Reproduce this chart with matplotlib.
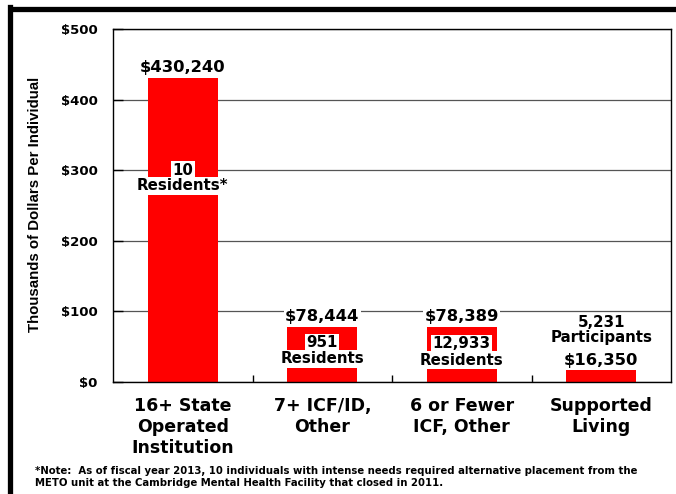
import matplotlib
matplotlib.use("Agg")
import matplotlib.pyplot as plt
from matplotlib.lines import Line2D
from matplotlib.ticker import FixedLocator

# ---- data ----
categories = ["16+ State\nOperated\nInstitution", "7+ ICF/ID,\nOther",
              "6 or Fewer\nICF, Other", "Supported\nLiving"]
costs = [430.240, 78.444, 78.389, 16.350]          # thousands of dollars
cost_labels = ["$430,240", "$78,444", "$78,389", "$16,350"]
count_numbers = ["10", "951", "12,933", "5,231"]
count_units = ["Residents*", "Residents", "Residents", "Participants"]
y_ticks = [0, 100, 200, 300, 400, 500]
y_tick_labels = ["$0", "$100", "$200", "$300", "$400", "$500"]
y_label = "Thousands of Dollars Per Individual"
note = ("*Note:  As of fiscal year 2013, 10 individuals with intense needs required alternative placement from the\n"
        "METO unit at the Cambridge Mental Health Facility that closed in 2011.")

# ---- layout (positions of the count labels, in data units) ----
count_num_y = [300, 56, 54, 84]
count_unit_y = [278, 33, 31, 63]

RED = "#FF0000"
FONT = "DejaVu Sans"

fig = plt.figure(figsize=(6.76, 4.94), dpi=100)
ax = fig.add_axes([113/676, 1-382/494, (671-113)/676, (382-29)/494])

x = list(range(len(categories)))
ax.bar(x, costs, width=0.5, color=RED, zorder=2)

ax.set_xlim(-0.5, 3.5)
ax.set_ylim(0, 500)
ax.yaxis.set_major_locator(FixedLocator(y_ticks))
ax.set_yticklabels(y_tick_labels, fontfamily=FONT, fontweight="bold", fontsize=9.5)
ax.grid(axis="y", color="#555555", linewidth=0.9, zorder=1)
ax.tick_params(axis="y", direction="in", length=7, width=1, pad=11, colors="black")

ax.set_xticks(x)
ax.set_xticklabels(categories, fontfamily=FONT, fontweight="bold", fontsize=12.5,
                   linespacing=1.2)
ax.set_xticks([0.5, 1.5, 2.5], minor=True)
ax.tick_params(axis="x", which="major", length=0, pad=11)
ax.tick_params(axis="x", which="minor", direction="in", length=5, width=1)

for s in ax.spines.values():
    s.set_linewidth(1.0)
    s.set_color("black")
    s.set_zorder(3)

wbox = dict(facecolor="white", edgecolor="none", pad=1.0)
for i in x:
    ax.annotate(cost_labels[i], xy=(i, costs[i]), xytext=(0, 2.0),
                textcoords="offset points", ha="center", va="bottom",
                fontfamily=FONT, fontweight="bold", fontsize=11.8,
                bbox=wbox, zorder=4)
    ax.text(i, count_num_y[i], count_numbers[i], ha="center", va="center",
            fontfamily=FONT, fontweight="bold", fontsize=10.8,
            bbox=(wbox if i < 3 else None), zorder=4)
    ax.text(i, count_unit_y[i], count_units[i], ha="center", va="center",
            fontfamily=FONT, fontweight="bold", fontsize=10.8,
            bbox=(wbox if i < 3 else None), zorder=4)

fig.text(35/676, 1-476.5/494, note, ha="left", va="center",
         fontfamily=FONT, fontweight="bold", fontsize=7.3, linespacing=1.25)

fig.text(35/676, 1-204/494, y_label, rotation=90, ha="center", va="center",
         fontfamily="Liberation Sans", fontweight="bold", fontsize=10.8)

# frame decoration
fig.add_artist(Line2D([9.5/676, 9.5/676], [0, 1-7/494], transform=fig.transFigure,
                      color="black", linewidth=3.8, solid_capstyle="projecting"))
fig.add_artist(Line2D([9.5/676, 1], [1-9.5/494, 1-9.5/494], transform=fig.transFigure,
                      color="black", linewidth=3.8, solid_capstyle="butt"))

fig.savefig("out.png", dpi=100)
